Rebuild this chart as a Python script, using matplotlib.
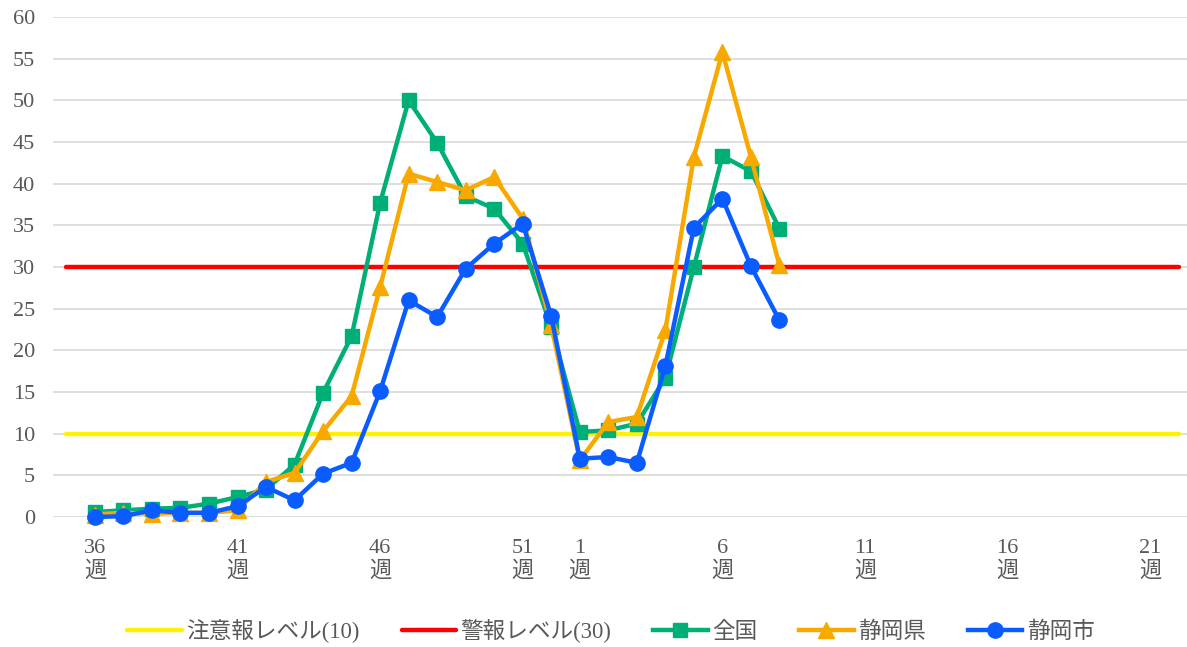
import matplotlib
matplotlib.use("Agg")
import matplotlib.pyplot as plt

# 週ラベル (36週〜52週, 1週〜21週)
weeks = list(range(36, 53)) + list(range(1, 22))
tick_weeks = [36, 41, 46, 51, 1, 6, 11, 16, 21]

# 定点当たり報告数 (36週〜8週)
zenkoku = [0.6, 0.8, 1.0, 1.1, 1.6, 2.4, 3.3, 6.3, 14.9, 21.7, 37.7, 50.0, 44.9,
           38.5, 37.0, 32.8, 22.8, 10.2, 10.4, 11.2, 16.7, 30.0, 43.3, 41.5, 34.6]
shizuoka_ken = [0.3, 0.5, 0.4, 0.5, 0.5, 0.8, 4.2, 5.3, 10.3, 14.5, 27.6, 41.2, 40.2,
                39.2, 40.8, 35.8, 23.0, 6.8, 11.4, 12.0, 22.4, 43.2, 55.8, 43.2, 30.2]
shizuoka_shi = [0.0, 0.1, 0.8, 0.5, 0.5, 1.3, 3.6, 2.0, 5.2, 6.5, 15.1, 26.0, 24.0,
                29.8, 32.8, 35.2, 24.1, 7.0, 7.2, 6.5, 18.1, 34.7, 38.2, 30.1, 23.6]

chui_level = 10
keiho_level = 30

# 明朝体はないので、数字はセリフ体、日本語はNotoで代用
plt.rcParams['font.family'] = ['Liberation Serif', 'Noto Sans CJK JP']

fig = plt.figure(figsize=(11.87, 6.47), dpi=100)
ax = fig.add_axes([53 / 1187, 130 / 647, 1134 / 1187, 500 / 647])

x = list(range(len(weeks)))
xs = x[:len(zenkoku)]

# 注意報・警報レベル
ax.plot([-1, len(weeks)], [chui_level] * 2, color='#FFF200', lw=3.2,
        solid_capstyle='round', label='注意報レベル(10)', zorder=2)
ax.plot([-1, len(weeks)], [keiho_level] * 2, color='#FF0000', lw=3.2,
        solid_capstyle='round', label='警報レベル(30)', zorder=2)

ax.plot(xs, zenkoku, color='#00AE78', lw=3.2, marker='s', ms=10,
        label='全国', zorder=3, clip_on=False)
ax.plot(xs, shizuoka_ken, color='#F7A900', lw=3.2, marker='^', ms=11,
        label='静岡県', zorder=4, clip_on=False)
ax.plot(xs, shizuoka_shi, color='#0A5CFF', lw=3.2, marker='o', ms=11,
        label='静岡市', zorder=5, clip_on=False)

ax.set_xlim(-1.47, 38.29)
ax.set_ylim(0, 60)
ax.set_yticks(range(0, 61, 5))
ax.grid(axis='y', color='#D9D9D9', lw=1.2)
ax.set_axisbelow(True)
for s in ax.spines.values():
    s.set_visible(False)

tpos = [weeks.index(w) if w >= 36 else 17 + w - 1 for w in tick_weeks]
ax.set_xticks(tpos)
ax.set_xticklabels([f"{w}\n週" for w in tick_weeks])
ax.tick_params(axis='x', length=0, pad=16, labelsize=16, labelcolor='#595959')
ax.tick_params(axis='y', length=0, pad=13, labelsize=16, labelcolor='#595959')
for lab in ax.get_xticklabels():
    lab.set_linespacing(1.2)

leg = fig.legend(loc='center', bbox_to_anchor=(611 / 1187, 1 - 631 / 647), ncol=5,
                 frameon=False, fontsize=16.3, handlelength=2.4, handletextpad=0.2,
                 columnspacing=1.85, labelcolor='#595959')

fig.savefig('out.png', dpi=100)
